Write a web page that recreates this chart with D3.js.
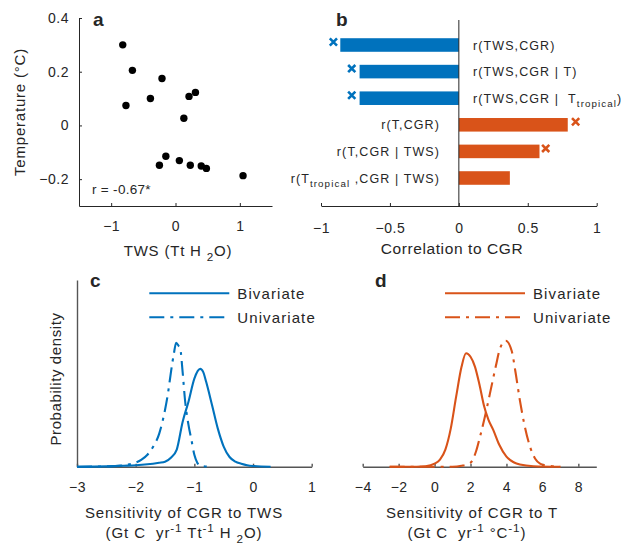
<!DOCTYPE html>
<html>
<head>
<meta charset="utf-8">
<script src="https://cdn.jsdelivr.net/npm/d3@7"></script>
<style>
  body { margin: 0; background: #fff; }
  svg { font-family: "Liberation Sans", Arial, Helvetica, sans-serif; }
  text { fill: #262626; white-space: pre; }
</style>
</head>
<body>
<svg id="fig" width="621" height="550"></svg>
<script>
// ---- panel a: temperature vs TWS anomalies ----
const twsAnom  = [-0.82, -0.67, -0.21, -0.77, -0.39, 0.21, 0.31, 0.13, -0.15, -0.25, 0.06, 0.23, 0.40, 0.48, 1.05];
const tempAnom = [0.300, 0.205, 0.175, 0.074, 0.100, 0.108, 0.123, 0.027, -0.115, -0.148, -0.131, -0.148, -0.151, -0.160, -0.187];
const scatterXTicks = [-1, 0, 1];
const scatterYTicks = [-0.2, 0, 0.2, 0.4];
const scatterNote = "r = -0.67*";

// ---- panel b: (partial) correlations with CGR ----
const corrLabels  = ["r(TWS,CGR)", "r(TWS,CGR | T)", "r(TWS,CGR |  T_{tropical})",
                     "r(T,CGR)", "r(T,CGR | TWS)", "r(T_{tropical} ,CGR | TWS)"];
const corrValues  = [-0.86, -0.72, -0.72, 0.79, 0.585, 0.37];
const corrMarkers = [-0.91, -0.777, -0.777, 0.847, 0.63, null];
const corrDriver  = ["TWS", "TWS", "TWS", "T", "T", "T"];
const corrTicks   = [-1, -0.5, 0, 0.5, 1];

// ---- panel c: sensitivity of CGR to TWS ----
const twsBivX = [-3.0, -2.5, -2.2, -2.0, -1.8, -1.6, -1.5, -1.4, -1.3, -1.2, -1.1, -1.0, -0.9, -0.85, -0.8, -0.7, -0.6, -0.5, -0.4, -0.3, -0.2, -0.1, 0.0, 0.3];
const twsBivY = [0, 0.004, 0.013, 0.02, 0.033, 0.054, 0.067, 0.12, 0.23, 0.60, 0.87, 1.18, 1.31, 1.27, 1.14, 0.83, 0.51, 0.27, 0.13, 0.067, 0.04, 0.02, 0.01, 0];
const twsUniX = [-3.0, -2.5, -2.2, -2.0, -1.9, -1.8, -1.7, -1.6, -1.5, -1.45, -1.4, -1.35, -1.31, -1.27, -1.24, -1.2, -1.16, -1.1, -1.05, -1.0, -0.95, -0.9, -0.73];
const twsUniY = [0, 0.004, 0.02, 0.054, 0.094, 0.16, 0.27, 0.44, 0.76, 0.98, 1.26, 1.51, 1.66, 1.62, 1.58, 1.27, 0.90, 0.56, 0.36, 0.16, 0.054, 0.013, 0];
const twsTicks = [-3, -2, -1, 0, 1];

// ---- panel d: sensitivity of CGR to T ----
const tBivX = [-2.5, -1.0, -0.5, 0.0, 0.3, 0.6, 0.9, 1.2, 1.5, 1.75, 2.0, 2.25, 2.5, 2.75, 3.0, 3.27, 3.6, 4.0, 4.4, 4.75, 5.5, 7.0];
const tBivY = [0, 0, 0.002, 0.013, 0.03, 0.073, 0.163, 0.30, 0.428, 0.486, 0.471, 0.428, 0.351, 0.261, 0.201, 0.157, 0.094, 0.043, 0.019, 0.009, 0.002, 0];
const tUniX = [-2.5, 1.0, 1.5, 2.0, 2.3, 2.53, 2.8, 3.08, 3.4, 3.64, 3.96, 4.29, 4.5, 4.75, 5.0, 5.31, 5.6, 5.87, 6.3, 7.0];
const tUniY = [0, 0, 0.004, 0.017, 0.064, 0.129, 0.214, 0.313, 0.428, 0.506, 0.54, 0.497, 0.407, 0.283, 0.18, 0.086, 0.034, 0.013, 0.004, 0];
const tTicks = [-4, -2, 0, 2, 4, 6, 8];

const legendNames = ["Bivariate", "Univariate"];

// ---- styling ----
const BLUE = "#0072BD", ORANGE = "#D95319", INK = "#262626";
const DASHDOT = "15,6,3,6";
const svg = d3.select("#fig");
const fmt = d => d3.format("")(d).replace("-", "\u2212");

// text with TeX-like _{sub} and ^{sup} parts
function rich(sel, str, size) {
  const parts = str.split(/(_\{[^}]*\}|\^\{[^}]*\})/).filter(s => s.length);
  let off = 0;
  parts.forEach(p => {
    let txt = p, target = 0, fs = size;
    if (p.startsWith("_{")) { txt = p.slice(2, -1); target = size * 0.35; fs = size * 0.78; }
    else if (p.startsWith("^{")) { txt = p.slice(2, -1); target = -size * 0.4; fs = size * 0.78; }
    sel.append("tspan").attr("dy", target - off).attr("font-size", fs).text(txt);
    off = target;
  });
  return sel;
}

function label(x, y, str, opts = {}) {
  const t = svg.append("text")
    .attr("x", x).attr("y", y)
    .attr("font-size", opts.size || 15)
    .attr("letter-spacing", opts.ls == null ? 0.8 : opts.ls)
    .attr("text-anchor", opts.anchor || "start");
  if (opts.bold) t.attr("font-weight", "bold");
  if (opts.rotate) t.attr("transform", `rotate(-90,${x},${y})`);
  rich(t, str, opts.size || 15);
  return t;
}

function styleAxis(g, color, width) {
  g.selectAll("path.domain").attr("stroke", color).attr("stroke-width", width);
  g.selectAll(".tick line").attr("stroke", color).attr("stroke-width", width);
  g.selectAll(".tick text").attr("fill", INK).attr("font-size", 14)
    .attr("letter-spacing", 0.5).attr("font-family", null);
  g.attr("font-family", null);
}

// ================= panel a =================
{
  const x = d3.scaleLinear().domain([-1.5, 1.5]).range([79, 272]);
  const y = d3.scaleLinear().domain([-0.3, 0.4]).range([206, 18]);
  const gx = svg.append("g").attr("transform", "translate(0,206)")
    .call(d3.axisBottom(x).tickValues(scatterXTicks).tickSize(-3).tickSizeOuter(0).tickPadding(10).tickFormat(fmt));
  const gy = svg.append("g").attr("transform", "translate(79,0)")
    .call(d3.axisLeft(y).tickValues(scatterYTicks).tickSize(-3).tickSizeOuter(0).tickPadding(10).tickFormat(fmt));
  styleAxis(gx, INK, 1); styleAxis(gy, INK, 1);
  gx.selectAll(".tick text").attr("dy", "1.05em");

  svg.append("g").selectAll("circle").data(twsAnom).join("circle")
    .attr("cx", d => x(d)).attr("cy", (d, i) => y(tempAnom[i]))
    .attr("r", 3.7).attr("fill", "#000");

  label(92, 194, scatterNote, { size: 13.5, ls: 0.3 });
  label(93, 26, "a", { size: 19, bold: true, ls: 0 });
  label(178, 256, "TWS (Tt H _{2}O)", { anchor: "middle" });
  label(25, 112, "Temperature (°C)", { anchor: "middle", rotate: true });
}

// ================= panel b =================
{
  const x = d3.scaleLinear().domain([-1, 1]).range([321, 596.7]);
  const y = d3.scaleBand().domain(corrLabels).range([31.7, 191.3]).paddingInner(0.49).paddingOuter(0.245);
  const col = d => d === "TWS" ? BLUE : ORANGE;

  svg.append("g").selectAll("rect").data(corrValues).join("rect")
    .attr("x", d => x(Math.min(0, d))).attr("width", d => Math.abs(x(d) - x(0)))
    .attr("y", (d, i) => y(corrLabels[i])).attr("height", y.bandwidth())
    .attr("fill", (d, i) => col(corrDriver[i]));

  const s = 3.6;
  svg.append("g").selectAll("path").data(corrMarkers.map((v, i) => ({ v, i })).filter(d => d.v != null)).join("path")
    .attr("d", d => {
      const cx = x(d.v), cy = y(corrLabels[d.i]) + y.bandwidth() / 2 - 3;
      return `M${cx - s},${cy - s}L${cx + s},${cy + s}M${cx - s},${cy + s}L${cx + s},${cy - s}`;
    })
    .attr("stroke", d => col(corrDriver[d.i])).attr("stroke-width", 2.6).attr("fill", "none");

  svg.append("line").attr("x1", x(0)).attr("x2", x(0)).attr("y1", 20).attr("y2", 206)
    .attr("stroke", INK).attr("stroke-width", 1);

  const gx = svg.append("g").attr("transform", "translate(0,206)")
    .call(d3.axisBottom(x).tickValues(corrTicks).tickSize(-3).tickSizeOuter(0).tickPadding(10).tickFormat(fmt));
  styleAxis(gx, INK, 1);
  gx.selectAll(".tick text").attr("dy", "1.2em");

  corrLabels.forEach((lab, i) => {
    const neg = corrValues[i] < 0;
    label(neg ? 473 : 440, y(lab) + y.bandwidth() / 2 + 4.5, lab,
      { size: 12.5, ls: 1.1, anchor: neg ? "start" : "end" });
  });

  label(336, 26, "b", { size: 19, bold: true, ls: 0 });
  label(452, 254, "Correlation to CGR", { anchor: "middle", ls: 0.6, size: 15.5 });
}

// ================= density panels =================
function densityPanel(o) {
  const x = d3.scaleLinear().domain(o.xDomain).range(o.xRange);
  const y = d3.scaleLinear().domain([0, o.yMax]).range([466.7, 280]);
  const gx = svg.append("g").attr("transform", "translate(0,466.7)")
    .call(d3.axisBottom(x).tickValues(o.ticks).tickSize(-3).tickSizeOuter(0).tickPadding(10).tickFormat(fmt));
  styleAxis(gx, "#555", 1.4);
  gx.selectAll(".tick text").attr("dy", "1.1em");
  if (o.yAxis) {
    const gy = svg.append("g").attr("transform", `translate(${o.xRange[0]},0)`)
      .call(d3.axisLeft(y).tickValues([]).tickSizeOuter(0));
    styleAxis(gy, "#555", 1.4);
  }
  const line = d3.line().x(d => x(d[0])).y(d => y(d[1])).curve(d3.curveMonotoneX);
  const curves = [
    { xs: o.bivX, ys: o.bivY, dash: null },
    { xs: o.uniX, ys: o.uniY, dash: DASHDOT }
  ];
  curves.forEach(c => {
    svg.append("path").datum(c.xs.map((v, i) => [v, c.ys[i]]))
      .attr("d", line).attr("fill", "none").attr("stroke", o.color)
      .attr("stroke-width", 2.1).attr("stroke-dasharray", c.dash)
      .attr("stroke-linejoin", "round");
  });
  // legend
  legendNames.forEach((name, i) => {
    const ly = 293.3 + i * 24;
    svg.append("line").attr("x1", o.legendX).attr("x2", o.legendX + 80)
      .attr("y1", ly).attr("y2", ly).attr("stroke", o.color).attr("stroke-width", 2.1)
      .attr("stroke-dasharray", i ? DASHDOT : null);
    label(o.legendX + 88, ly + 5.5, name, { ls: 1.1 });
  });
  label(o.letterX, 287, o.letter, { size: 19, bold: true, ls: 0 });
  label(o.titleX, 518, o.title1, { anchor: "middle", ls: 0.9 });
  label(o.titleX2, 538, o.title2, { anchor: "middle", ls: 0.9 });
}

densityPanel({
  xDomain: [-3, 1], xRange: [77, 311.7], yMax: 2.5, ticks: twsTicks, yAxis: true,
  bivX: twsBivX, bivY: twsBivY, uniX: twsUniX, uniY: twsUniY, color: BLUE,
  legendX: 149.3, letter: "c", letterX: 90,
  title1: "Sensitivity of CGR to TWS", title2: "(Gt C  yr^{-1} Tt^{-1} H _{2}O)", titleX: 184, titleX2: 184
});
densityPanel({
  xDomain: [-4, 9], xRange: [362.7, 596.3], yMax: 0.8, ticks: tTicks, yAxis: false,
  bivX: tBivX, bivY: tBivY, uniX: tUniX, uniY: tUniY, color: ORANGE,
  legendX: 445, letter: "d", letterX: 375,
  title1: "Sensitivity of CGR to T", title2: "(Gt C  yr^{-1} °C^{-1})", titleX: 472, titleX2: 467
});

label(61, 379, "Probability density", { anchor: "middle", rotate: true, ls: 0.6 });
</script>
</body>
</html>
